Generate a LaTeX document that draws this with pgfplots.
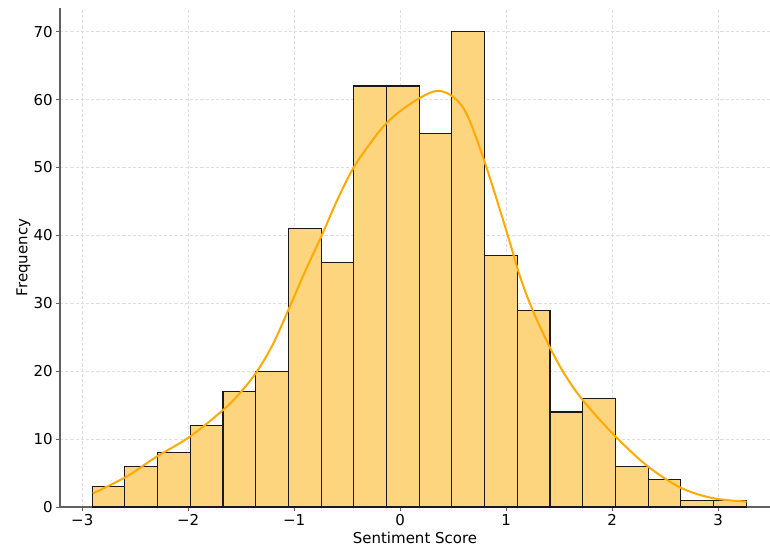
\documentclass[border=0pt]{standalone}
\usepackage{fontspec}
\setmainfont{DejaVu Sans}
\usepackage{pgfplots}
\pgfplotsset{compat=1.18}
\definecolor{barfill}{RGB}{253,213,126}
\definecolor{kdeline}{RGB}{255,170,0}
\definecolor{gridc}{RGB}{222,222,222}
\begin{document}
\begin{tikzpicture}
\begin{axis}[
  scale only axis,
  width=355pt, height=249.5pt,
  xmin=-3.21, xmax=3.49,
  ymin=0, ymax=73.5,
  axis x line*=bottom, axis y line*=left,
  axis line style={-, black!62, line width=0.8pt},
  tick align=outside,
  major tick length=2pt,
  tick style={black!62, line width=0.5pt},
  xtick={-3,-2,-1,0,1,2,3},
  xticklabels={−3,−2,−1,0,1,2,3},
  ytick={0,10,20,30,40,50,60,70},
  yticklabels={0,10,20,30,40,50,60,70},
  yticklabel style={inner sep=0.5pt, xshift=-1pt},
  xticklabel style={inner sep=0.5pt, yshift=-1pt},
  grid=major,
  major grid style={gridc, dash pattern=on 1.6pt off 1pt, line width=0.4pt},
  font=\fontsize{7.5}{9}\selectfont,
  xlabel={Sentiment Score},
  ylabel={Frequency},
  xlabel style={yshift=1pt},
  ylabel style={yshift=-2.5pt},
  clip=false,
]
\addplot[ybar interval, fill=barfill, draw=black!90, line width=0.6pt] coordinates {
(-2.907,3) (-2.598,6) (-2.290,8) (-1.981,12) (-1.672,17) (-1.364,20)
(-1.055,41) (-0.746,36) (-0.438,62) (-0.129,62) (0.180,55) (0.488,70)
(0.797,37) (1.106,29) (1.414,14) (1.723,16) (2.032,6) (2.340,4)
(2.649,1) (2.958,1) (3.266,1)
};
\addplot[kdeline, line width=1pt, smooth, tension=0.55] coordinates {
(-2.9,2.0) (-2.58,4.5) (-2.3,7.4) (-1.99,10.3) (-1.67,14.3) (-1.5,17.0)
(-1.35,20.0) (-1.2,24.0) (-1.05,29.2) (-0.9,34.6) (-0.74,40.0) (-0.6,45.0)
(-0.45,49.7) (-0.3,53.2) (-0.15,56.2) (0.0,58.3) (0.18,60.2) (0.35,61.3)
(0.5,60.4) (0.63,57.8) (0.8,50.7) (1.0,40.8) (1.13,34.0) (1.25,29.0)
(1.41,23.6) (1.55,19.6) (1.72,15.8) (2.0,10.9) (2.32,6.2) (2.64,2.9)
(2.95,1.3) (3.27,0.8)
};
\coordinate (bl) at (rel axis cs:0,0);
\coordinate (tr) at (rel axis cs:1,1);
\end{axis}
\pgfresetboundingbox
\path[use as bounding box] ([shift={(-30pt,-22.5pt)}]bl) rectangle ([shift={(0pt,4pt)}]tr);
\end{tikzpicture}
\end{document}
